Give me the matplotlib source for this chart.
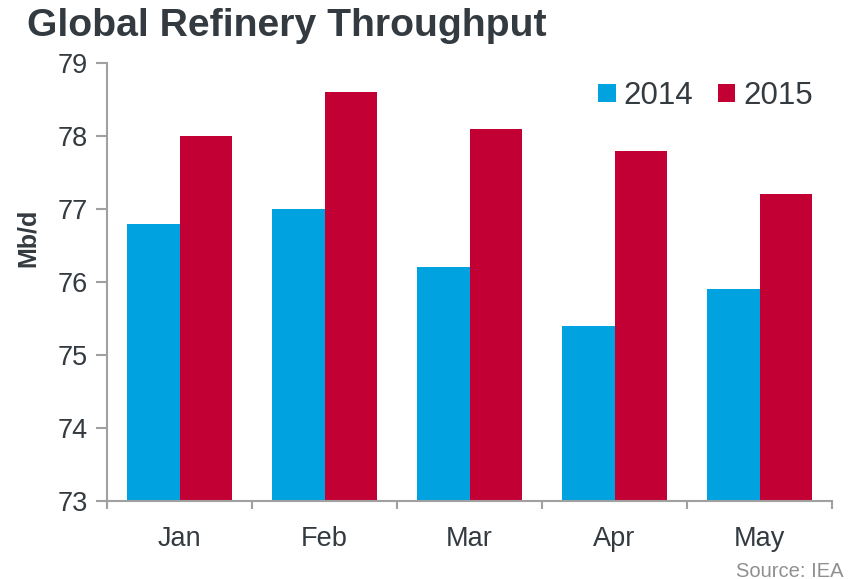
import numpy as np
import matplotlib.pyplot as plt

plt.rcParams['font.family'] = ['Liberation Sans', 'DejaVu Sans']

months = ['Jan', 'Feb', 'Mar', 'Apr', 'May']
years = ['2014', '2015']
vals_2014 = [76.8, 77.0, 76.2, 75.4, 75.9]
vals_2015 = [78.0, 78.6, 78.1, 77.8, 77.2]

blue = '#00A3E0'
red = '#C20034'
text_col = '#333A40'
axis_col = '#A0A0A0'

fig = plt.figure(figsize=(8.56, 5.79), dpi=100)
ax = fig.add_axes([0.125, 0.1347, 0.847, 0.7563])

x = np.arange(len(months))
w = 0.36
base = 73
ax.bar(x - w / 2, np.array(vals_2014) - base, w, bottom=base, color=blue, label=years[0])
ax.bar(x + w / 2, np.array(vals_2015) - base, w, bottom=base, color=red, label=years[1])

ax.set_xlim(-0.5, len(months) - 0.5)
ax.set_ylim(73, 79)
ax.set_yticks(range(73, 80))
ax.set_xticks(x)
ax.set_xticklabels(months)
ax.set_xticks(np.arange(-0.5, len(months)), minor=True)
ax.tick_params(axis='x', which='major', length=0, pad=18, labelsize=19.5, labelcolor=text_col)
ax.tick_params(axis='x', which='minor', length=6, width=1.5, color=axis_col, direction='out')
ax.tick_params(axis='y', length=8, width=1.5, color=axis_col, labelsize=19.5, labelcolor=text_col, pad=6)

for s in ['top', 'right']:
    ax.spines[s].set_visible(False)
for s in ['left', 'bottom']:
    ax.spines[s].set_color(axis_col)
    ax.spines[s].set_linewidth(1.5)

# y label sits above the axis centre in the original
fig.text(0.032, 1 - 238 / 579, 'Mb/d', fontsize=18, fontweight='bold', color=text_col,
         rotation=90, ha='center', va='center')

ax.legend(loc='center right', bbox_to_anchor=(0.964, 1 - 96 / 579), bbox_transform=fig.transFigure,
          borderaxespad=0, ncol=2, frameon=False, fontsize=22.5,
          handlelength=0.55, handleheight=0.55, handletextpad=0.25,
          columnspacing=0.8, labelcolor=text_col)

fig.text(0.032, 0.987, 'Global Refinery Throughput', fontsize=28.2, fontweight='bold',
         color=text_col, ha='left', va='top')
fig.text(0.985, 0.004, 'Source: IEA', fontsize=14.5, color='#909090', ha='right', va='baseline')

fig.savefig('out.png', dpi=100)
